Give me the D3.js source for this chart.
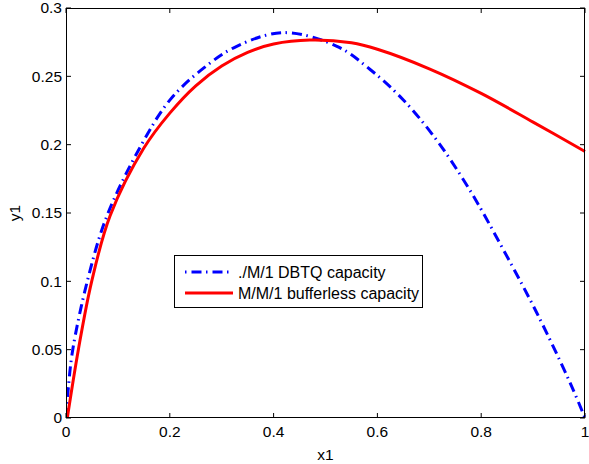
<!DOCTYPE html>
<html lang="en">
<head>
  <meta charset="utf-8">
  <title>Capacity curves</title>
  <style>
    html,body{margin:0;background:#fff}
    svg{display:block}
    text{font-family:"Liberation Sans",Arial,Helvetica,sans-serif;font-size:15.5px;fill:#000}
    .legend text{font-size:16px}
    .frame{fill:none;stroke:#000;stroke-width:1}
    .tick{stroke:#000;stroke-width:1}
    .curve{fill:none;stroke-width:3}
  </style>
  <script src="https://d3js.org/d3.v7.min.js"></script>
</head>
<body>
<svg id="chart" width="589" height="464"></svg>
<script>
  // values
  const dbtqX=[0,0.004,0.013,0.041,0.078,0.1426,0.2,0.265,0.329,0.419,0.522,0.586,0.65,0.714,0.778,0.843,0.907,0.971,1];
  const dbtqY=[0,0.02,0.05,0.1,0.147,0.198,0.2326,0.256,0.272,0.282,0.272,0.255,0.2327,0.2034,0.1668,0.1229,0.077,0.026,0];
  const bufX=[0.0025,0.0238,0.0495,0.085,0.15,0.2,0.25,0.3,0.35,0.4,0.47,0.55,0.6,0.7,0.8,0.9,1];
  const bufY=[0,0.05,0.1,0.148,0.1975,0.2231,0.2431,0.2576,0.2676,0.2736,0.2765,0.2745,0.2698,0.2555,0.2375,0.2165,0.195];
  const xTicks=[0,0.2,0.4,0.6,0.8,1];
  const yTicks=[0,0.05,0.1,0.15,0.2,0.25,0.3];
  const legendLabels=['./M/1 DBTQ capacity','M/M/1 bufferless capacity'];

  const L=66,R=585,T=8,B=418;
  const x=d3.scaleLinear().domain([0,1]).range([L,R]);
  const y=d3.scaleLinear().domain([0,0.3]).range([B,T]);
  const svg=d3.select('#chart');

  // ticks (inside, mirrored like matlab's box on)
  const tk=5;
  const g=svg.append('g');
  xTicks.forEach(v=>{
    g.append('line').attr('class','tick').attr('x1',x(v)).attr('x2',x(v)).attr('y1',B).attr('y2',B-tk);
    g.append('line').attr('class','tick').attr('x1',x(v)).attr('x2',x(v)).attr('y1',T).attr('y2',T+tk);
    g.append('text').attr('x',x(v)).attr('y',B+19).attr('text-anchor','middle').text(d3.format('~g')(v));
  });
  yTicks.forEach(v=>{
    g.append('line').attr('class','tick').attr('x1',L).attr('x2',L+tk).attr('y1',y(v)).attr('y2',y(v));
    g.append('line').attr('class','tick').attr('x1',R).attr('x2',R-tk).attr('y1',y(v)).attr('y2',y(v));
    g.append('text').attr('x',L-4).attr('y',y(v)).attr('dy','0.35em').attr('text-anchor','end').text(d3.format('~g')(v));
  });

  svg.append('clipPath').attr('id','clip').append('rect')
    .attr('x',L).attr('y',T-2).attr('width',R-L+1).attr('height',B-T+2);

  const line=d3.line().x(d=>x(d[0])).y(d=>y(d[1])).curve(d3.curveCatmullRom.alpha(0.5));
  const plot=svg.append('g').attr('clip-path','url(#clip)');
  plot.append('path').attr('class','curve').attr('stroke','#0000ff')
    .attr('stroke-dasharray','10,4.5,1.5,5')
    .attr('d',line(d3.zip(dbtqX,dbtqY)));
  plot.append('path').attr('class','curve').attr('stroke','#ff0000')
    .attr('d',line(d3.zip(bufX,bufY)));

  svg.append('rect').attr('class','frame').attr('x',L+0.5).attr('y',T+0.5).attr('width',R-L-1).attr('height',B-T-1);

  // axis labels
  svg.append('text').attr('x',(L+R)/2).attr('y',460).attr('text-anchor','middle').text('x1');
  svg.append('text').attr('transform','translate(20,'+((T+B)/2)+') rotate(-90)').attr('text-anchor','middle').text('y1');

  // legend
  const lg=svg.append('g').attr('class','legend');
  lg.append('rect').attr('x',174.5).attr('y',255.5).attr('width',248).attr('height',52).attr('fill','#fff').attr('stroke','#000');
  const colors=['#0000ff','#ff0000'];
  legendLabels.forEach((t,i)=>{
    const yy=272+i*21;
    const ln=lg.append('line').attr('x1',185).attr('x2',233).attr('y1',yy).attr('y2',yy)
      .attr('stroke',colors[i]).attr('stroke-width',3);
    if(i===0)ln.attr('stroke-dasharray','1.5,5,10,4.5');
    lg.append('text').attr('x',238).attr('y',yy).attr('dy','0.35em').text(t);
  });
</script>
</body>
</html>
